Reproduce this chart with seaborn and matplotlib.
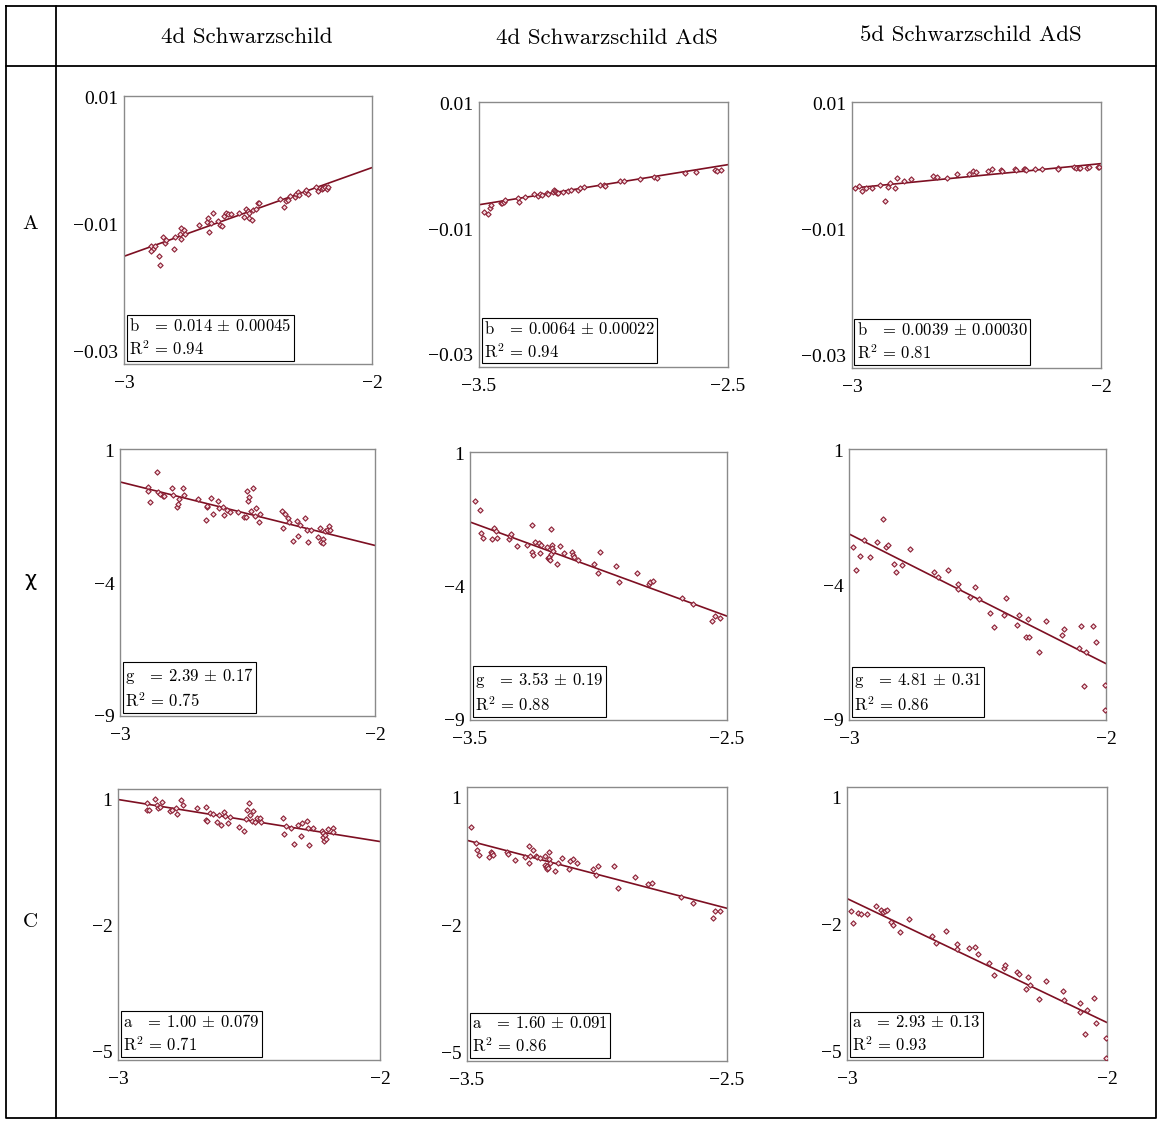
import matplotlib
matplotlib.use("Agg")
import matplotlib.pyplot as plt
import seaborn as sns
import pandas as pd

W, H = 1162, 1124

col_titles = ["4d Schwarzschild", "4d Schwarzschild AdS", "5d Schwarzschild AdS"]
row_titles = ["A", "χ", "C"]

x_ranges = [(-3, -2), (-3.5, -2.5), (-3, -2)]
x_ticklabels = [["−3", "−2"], ["−3.5", "−2.5"], ["−3", "−2"]]
y_ranges = [(-0.032, 0.0103), (-9, 1.05), (-5.2, 1.25)]
y_ticks = [[0.01, -0.01, -0.03], [1, -4, -9], [1, -2, -5]]
y_ticklabels = [["0.01", "−0.01", "−0.03"], ["1", "−4", "−9"], ["1", "−2", "−5"]]

param_names = ["b", "g", "a"]
fit_slope = [[0.014, 0.0064, 0.0039], [-2.39, -3.53, -4.81], [-1.00, -1.60, -2.93]]
fit_left = [[-0.0150, -0.0061, -0.0034], [-0.19, -1.575, -2.10], [1.00, -0.005, -1.385]]
fit_value = [["0.014", "0.0064", "0.0039"], ["2.39", "3.53", "4.81"], ["1.00", "1.60", "2.93"]]
fit_err = [["0.00045", "0.00022", "0.00030"], ["0.17", "0.19", "0.31"], ["0.079", "0.091", "0.13"]]
r2_text = [["0.94", "0.94", "0.81"], ["0.75", "0.88", "0.86"], ["0.71", "0.86", "0.93"]]

# ---- row A ----
a_s4_x = [-2.890, -2.885, -2.890, -2.877, -2.860, -2.854, -2.844, -2.836, -2.831, -2.799,
          -2.793, -2.776, -2.772, -2.772, -2.759, -2.755, -2.698, -2.664, -2.661, -2.657,
          -2.650, -2.641, -2.619, -2.614, -2.603, -2.596, -2.589, -2.579, -2.569, -2.538,
          -2.515, -2.508, -2.501, -2.495, -2.495, -2.484, -2.481, -2.467, -2.461, -2.454,
          -2.370, -2.356, -2.346, -2.339, -2.332, -2.312, -2.305, -2.298, -2.294, -2.271,
          -2.267, -2.257, -2.224, -2.217, -2.210, -2.203, -2.196, -2.190, -2.183, -2.179]
a_s4_y = [-0.0133, -0.0138, -0.0142, -0.0134, -0.0150, -0.0163, -0.0120, -0.0129, -0.0125, -0.0138,
          -0.0119, -0.0115, -0.0106, -0.0123, -0.0109, -0.0115, -0.0100, -0.0096, -0.0090, -0.0111,
          -0.0098, -0.0081, -0.0094, -0.0100, -0.0102, -0.0087, -0.0082, -0.0083, -0.0084, -0.0081,
          -0.0088, -0.0075, -0.0079, -0.0082, -0.0090, -0.0093, -0.0077, -0.0075, -0.0066, -0.0066,
          -0.0060, -0.0072, -0.0063, -0.0061, -0.0055, -0.0056, -0.0052, -0.0048, -0.0053, -0.0048,
          -0.0046, -0.0051, -0.0041, -0.0047, -0.0042, -0.0044, -0.0042, -0.0041, -0.0044, -0.0040]

a_ads4_x = [-3.480, -3.462, -3.457, -3.453, -3.412, -3.406, -3.399, -3.395, -3.345, -3.341,
            -3.314, -3.278, -3.264, -3.257, -3.247, -3.228, -3.224, -3.204, -3.197, -3.193,
            -3.190, -3.187, -3.183, -3.163, -3.143, -3.129, -3.102, -3.096, -3.080, -3.015,
            -2.999, -2.995, -2.934, -2.918, -2.853, -2.799, -2.786, -2.671, -2.627, -2.554,
            -2.543, -2.527]
a_ads4_y = [-0.0072, -0.0075, -0.0066, -0.0061, -0.0059, -0.0058, -0.0056, -0.0054, -0.0051, -0.0056,
            -0.0049, -0.0044, -0.0047, -0.0044, -0.0045, -0.0042, -0.0044, -0.0041, -0.0038, -0.0039,
            -0.0040, -0.0042, -0.0043, -0.0040, -0.0039, -0.0037, -0.0037, -0.0034, -0.0033, -0.0029,
            -0.0029, -0.0031, -0.0023, -0.0023, -0.0020, -0.0016, -0.0018, -0.0010, -0.0009, -0.0006,
            -0.0007, -0.0006]

a_ads5_x = [-2.987, -2.973, -2.960, -2.942, -2.919, -2.889, -2.866, -2.856, -2.848, -2.826,
            -2.819, -2.792, -2.762, -2.674, -2.658, -2.617, -2.580, -2.530, -2.513, -2.503,
            -2.454, -2.436, -2.400, -2.396, -2.346, -2.342, -2.311, -2.306, -2.302, -2.266,
            -2.235, -2.174, -2.172, -2.110, -2.101, -2.087, -2.083, -2.056, -2.047, -2.013,
            -2.007]
a_ads5_y = [-0.0033, -0.0030, -0.0038, -0.0034, -0.0033, -0.0029, -0.0054, -0.0032, -0.0026, -0.0033,
            -0.0018, -0.0023, -0.0020, -0.0015, -0.0016, -0.0018, -0.0011, -0.0011, -0.0007, -0.0009,
            -0.0006, -0.0004, -0.0005, -0.0007, -0.0004, -0.0005, -0.0004, -0.0004, -0.0005, -0.0003,
            -0.0004, -0.0002, -0.0003, -0.0001, -0.0002, -0.0002, -0.0002, -0.0002, -0.0001, 0.0000,
            -0.0001]

# ---- row chi ----
chi_s4_x = [-2.889, -2.889, -2.882, -2.856, -2.850, -2.843, -2.833, -2.827, -2.797, -2.791,
            -2.775, -2.771, -2.767, -2.754, -2.749, -2.693, -2.664, -2.660, -2.658, -2.644,
            -2.637, -2.614, -2.610, -2.597, -2.592, -2.582, -2.569, -2.536, -2.512, -2.506,
            -2.503, -2.497, -2.493, -2.488, -2.477, -2.471, -2.467, -2.454, -2.451, -2.366,
            -2.362, -2.353, -2.340, -2.336, -2.323, -2.307, -2.301, -2.294, -2.275, -2.265,
            -2.264, -2.252, -2.222, -2.216, -2.213, -2.205, -2.203, -2.196, -2.190, -2.179,
            -2.176]
chi_s4_y = [-0.38, -0.53, -0.95, 0.19, -0.55, -0.63, -0.71, -0.71, -0.43, -0.68,
            -1.13, -1.03, -0.84, -0.40, -0.69, -0.84, -1.63, -1.13, -1.10, -0.80,
            -1.38, -0.90, -1.18, -1.15, -1.43, -1.25, -1.33, -1.34, -1.50, -1.50,
            -0.53, -0.90, -0.75, -1.28, -0.43, -1.46, -1.18, -1.68, -1.38, -1.30,
            -1.93, -1.40, -1.55, -1.68, -2.43, -1.65, -2.21, -1.80, -1.55, -2.00,
            -2.44, -2.00, -2.25, -1.94, -2.45, -2.33, -2.50, -2.05, -2.00, -1.84,
            -1.99]

chi_ads4_x = [-3.481, -3.461, -3.457, -3.451, -3.416, -3.405, -3.399, -3.396, -3.347, -3.345,
              -3.341, -3.316, -3.277, -3.260, -3.259, -3.256, -3.247, -3.231, -3.228, -3.222,
              -3.202, -3.198, -3.194, -3.192, -3.189, -3.185, -3.183, -3.181, -3.179, -3.176,
              -3.163, -3.148, -3.135, -3.105, -3.101, -3.096, -3.078, -3.016, -3.001, -2.995,
              -2.933, -2.921, -2.852, -2.804, -2.801, -2.788, -2.675, -2.632, -2.557, -2.548,
              -2.528]
chi_ads4_y = [-0.79, -1.14, -2.00, -2.16, -2.20, -1.79, -1.91, -2.19, -2.20, -2.10,
              -2.04, -2.48, -2.45, -1.69, -2.69, -2.83, -2.31, -2.38, -2.73, -2.44,
              -2.53, -2.94, -2.98, -2.88, -3.00, -2.78, -1.85, -2.44, -2.56, -2.65,
              -3.15, -2.46, -2.73, -2.69, -2.80, -2.90, -3.00, -3.15, -3.50, -2.70,
              -3.23, -3.81, -3.50, -3.90, -3.84, -3.79, -4.44, -4.65, -5.28, -5.09,
              -5.19]

chi_ads5_x = [-2.984, -2.974, -2.956, -2.943, -2.919, -2.890, -2.868, -2.857, -2.847, -2.826,
              -2.818, -2.795, -2.761, -2.670, -2.655, -2.616, -2.577, -2.575, -2.529, -2.508,
              -2.496, -2.451, -2.434, -2.396, -2.391, -2.348, -2.340, -2.312, -2.304, -2.299,
              -2.262, -2.234, -2.170, -2.164, -2.104, -2.099, -2.086, -2.078, -2.049, -2.040,
              -2.003, -2.004]
chi_ads5_y = [-2.58, -3.44, -2.90, -2.31, -2.95, -2.40, -1.56, -2.58, -2.52, -3.20,
              -3.52, -3.27, -2.64, -3.52, -3.69, -3.42, -3.96, -4.16, -4.43, -4.05,
              -4.53, -5.05, -5.54, -5.09, -4.46, -5.48, -5.12, -5.94, -5.27, -5.94,
              -6.47, -5.33, -5.86, -5.63, -6.33, -5.51, -7.74, -6.47, -5.52, -6.10,
              -7.72, -8.62]

# ---- row C ----
c_s4_x = [-2.889, -2.889, -2.882, -2.860, -2.851, -2.846, -2.838, -2.831, -2.803, -2.795,
          -2.777, -2.775, -2.758, -2.752, -2.698, -2.666, -2.665, -2.660, -2.647, -2.639,
          -2.622, -2.614, -2.605, -2.596, -2.592, -2.582, -2.573, -2.538, -2.518, -2.510,
          -2.506, -2.499, -2.497, -2.489, -2.484, -2.478, -2.471, -2.459, -2.456, -2.369,
          -2.367, -2.357, -2.341, -2.329, -2.312, -2.303, -2.296, -2.280, -2.273, -2.270,
          -2.257, -2.223, -2.219, -2.217, -2.214, -2.210, -2.208, -2.197, -2.181, -2.181]
c_s4_y = [0.91, 0.75, 0.75, 1.02, 0.87, 0.80, 0.83, 0.95, 0.72, 0.76,
          0.80, 0.66, 0.98, 0.87, 0.80, 0.82, 0.51, 0.49, 0.68, 0.66,
          0.46, 0.62, 0.40, 0.71, 0.60, 0.43, 0.59, 0.35, 0.26, 0.54,
          0.74, 0.91, 0.62, 0.50, 0.72, 0.47, 0.56, 0.55, 0.46, 0.55,
          0.19, 0.38, 0.32, -0.06, 0.39, 0.13, 0.43, 0.50, 0.31, -0.08,
          0.32, 0.24, 0.20, 0.11, 0.02, 0.15, 0.06, 0.30, 0.32, 0.22]

c_ads4_x = [-3.483, -3.464, -3.460, -3.454, -3.415, -3.409, -3.402, -3.400, -3.348, -3.342,
            -3.316, -3.278, -3.262, -3.261, -3.258, -3.248, -3.233, -3.230, -3.220, -3.201,
            -3.199, -3.197, -3.194, -3.192, -3.188, -3.185, -3.184, -3.181, -3.163, -3.149,
            -3.136, -3.107, -3.102, -3.094, -3.078, -3.017, -3.004, -2.997, -2.933, -2.920,
            -2.853, -2.805, -2.787, -2.676, -2.629, -2.555, -2.545, -2.528]
c_ads4_y = [0.32, -0.07, -0.23, -0.36, -0.40, -0.27, -0.31, -0.34, -0.29, -0.32,
            -0.48, -0.40, -0.15, -0.54, -0.38, -0.24, -0.37, -0.40, -0.42, -0.38,
            -0.58, -0.63, -0.60, -0.68, -0.66, -0.29, -0.45, -0.55, -0.72, -0.54,
            -0.41, -0.68, -0.50, -0.45, -0.54, -0.68, -0.81, -0.60, -0.62, -1.12,
            -0.87, -1.03, -1.01, -1.35, -1.47, -1.84, -1.67, -1.67]

c_ads5_x = [-2.986, -2.977, -2.958, -2.947, -2.923, -2.889, -2.870, -2.861, -2.855, -2.848,
            -2.830, -2.823, -2.797, -2.762, -2.674, -2.656, -2.618, -2.578, -2.577, -2.530,
            -2.508, -2.497, -2.452, -2.433, -2.396, -2.392, -2.346, -2.339, -2.311, -2.305,
            -2.298, -2.262, -2.234, -2.171, -2.167, -2.105, -2.103, -2.086, -2.077, -2.050,
            -2.041, -2.003, -2.005]
c_ads5_y = [-1.69, -1.97, -1.73, -1.74, -1.76, -1.55, -1.65, -1.70, -1.69, -1.66,
            -1.94, -2.01, -2.17, -1.87, -2.28, -2.43, -2.16, -2.47, -2.57, -2.56,
            -2.53, -2.70, -2.92, -3.19, -3.02, -2.95, -3.11, -3.17, -3.53, -3.24,
            -3.42, -3.76, -3.34, -3.56, -3.78, -3.86, -4.07, -4.58, -4.02, -3.74,
            -4.33, -4.69, -5.15]

panels = [[(a_s4_x, a_s4_y), (a_ads4_x, a_ads4_y), (a_ads5_x, a_ads5_y)],
          [(chi_s4_x, chi_s4_y), (chi_ads4_x, chi_ads4_y), (chi_ads5_x, chi_ads5_y)],
          [(c_s4_x, c_s4_y), (c_ads4_x, c_ads4_y), (c_ads5_x, c_ads5_y)]]

# panel boxes in pixels: left, top, right, bottom
boxes = [[(124, 96, 372, 364), (479, 102, 728, 367), (852, 102, 1101, 368)],
         [(120, 449, 375, 716), (470, 452, 727, 720), (849, 449, 1106, 720)],
         [(118, 789, 380, 1060), (467, 787, 727, 1061), (847, 787, 1107, 1060)]]

sns.set_style("white")
plt.rcParams["font.family"] = ["cmr10", "DejaVu Serif"]
plt.rcParams["mathtext.fontset"] = "cm"
plt.rcParams["text.color"] = "black"
plt.rcParams["axes.unicode_minus"] = True

fig = plt.figure(figsize=(W / 100, H / 100), dpi=100)

# table frame
tab = fig.add_axes([0, 0, 1, 1], zorder=-1)
tab.set_xlim(0, W); tab.set_ylim(H, 0); tab.axis("off")
lw = 1.3
tab.plot([6, 1156, 1156, 6, 6], [6, 6, 1118, 1118, 6], color="black", lw=lw)
tab.plot([6, 1156], [66, 66], color="black", lw=lw)
tab.plot([56, 56], [6, 1118], color="black", lw=lw)
for cx, cy, t in zip([247, 607, 971], [37, 38, 35], col_titles):
    tab.text(cx, cy, t, ha="center", va="center", fontsize=16.5, color="black")
for ry, t in zip([224, 581, 922], row_titles):
    tab.text(30, ry, t, ha="center", va="center", fontsize=15, color="black",
             family=["cmr10", "DejaVu Sans"])

line_color = "#7d0f22"
pt_edge = "#8c2035"
pt_face = "#f2d6dc"
tick_font = dict(fontsize=14, family="Liberation Serif", color="black")

for i in range(3):
    for j in range(3):
        l, t, r, b = boxes[i][j]
        ax = fig.add_axes([l / W, 1 - b / H, (r - l) / W, (b - t) / H])
        xs, ys = panels[i][j]
        df = pd.DataFrame({"x": xs, "y": ys})
        x0, x1 = x_ranges[j]
        y0 = fit_left[i][j]
        fit = pd.DataFrame({"x": [x0, x1], "y": [y0, y0 + fit_slope[i][j] * (x1 - x0)]})
        sns.lineplot(data=fit, x="x", y="y", ax=ax, color=line_color, lw=1.2, zorder=2)
        sns.scatterplot(data=df, x="x", y="y", ax=ax, marker="D", s=7,
                        facecolor=pt_face, edgecolor=pt_edge, linewidth=0.8, zorder=3)
        ax.set_xlim(x0, x1)
        ax.set_ylim(*y_ranges[i])
        ax.set_xticks(list(x_ranges[j]))
        ax.set_xticklabels(x_ticklabels[j], **tick_font)
        ax.set_yticks(y_ticks[i])
        ax.set_yticklabels(y_ticklabels[i], **tick_font)
        ax.set_xlabel(""); ax.set_ylabel("")
        ax.tick_params(axis="both", direction="out", length=3, width=0.8, color="#777777")
        ax.tick_params(axis="x", pad=5)
        ax.tick_params(axis="y", pad=1)
        for s in ax.spines.values():
            s.set_color("#8a8a8a"); s.set_linewidth(1.0)
        label = (f"{param_names[i]}   = {fit_value[i][j]} $\\pm$ {fit_err[i][j]}\n"
                 f"R$^2$ = {r2_text[i][j]}")
        ax.annotate(label, xy=(0, 0), xycoords="axes fraction", xytext=(5, 6),
                    textcoords="offset pixels", ha="left", va="bottom", fontsize=12,
                    linespacing=1.3, zorder=5, color="black",
                    bbox=dict(boxstyle="square,pad=0.15", fc="white", ec="black", lw=0.8))

fig.savefig("out.png", dpi=100)
